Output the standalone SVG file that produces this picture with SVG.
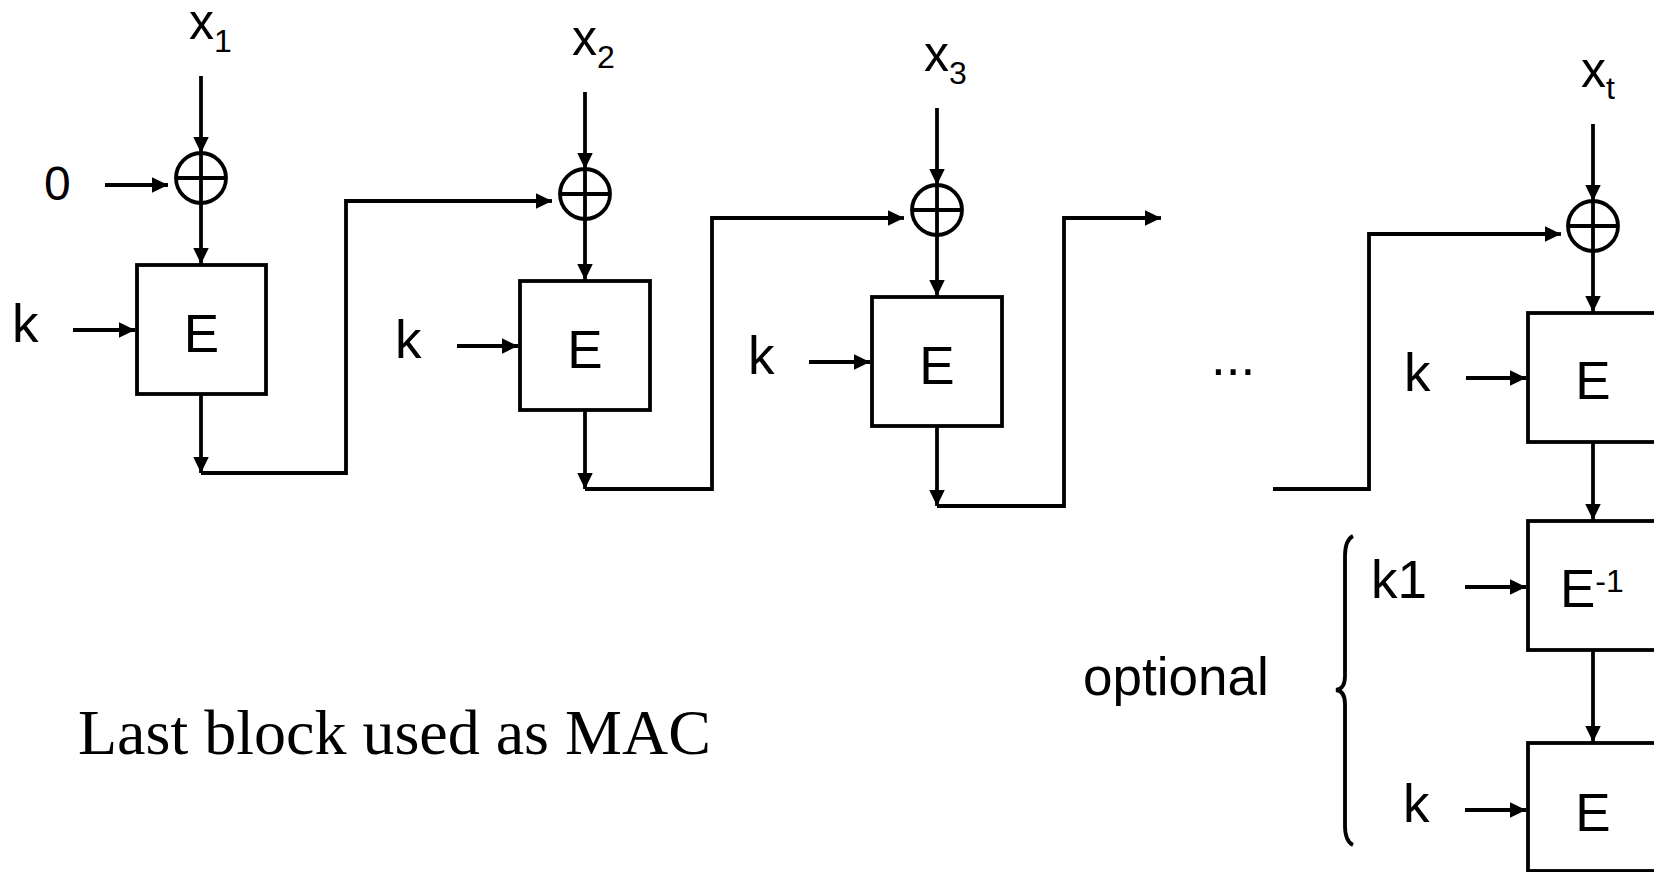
<svg xmlns="http://www.w3.org/2000/svg" width="1654" height="872" viewBox="0 0 1654 872">
<defs>
<marker id="ah" markerUnits="userSpaceOnUse" markerWidth="17" markerHeight="16" refX="16" refY="7.75" orient="auto">
<path d="M0,0 L16,7.75 L0,15.5 Z" fill="#000"/>
</marker>
<style>
.sans{font-family:"Liberation Sans",Arial,Helvetica,sans-serif;fill:#000}
.lbl{font-size:53px}
.xl{font-size:50px}
.sub{font-size:32px}
.box{fill:#fff;stroke:#000;stroke-width:3.8}
.xor{fill:none;stroke:#000;stroke-width:3.8}
.ln{fill:none;stroke:#000;stroke-width:3.8}
.arr{fill:none;stroke:#000;stroke-width:3.8;marker-end:url(#ah)}
.serif{font-family:"Liberation Serif","Times New Roman",serif;font-size:64px;fill:#000}
</style>
</defs>
<rect width="1654" height="872" fill="#fff"/>

<g id="connectors">
<line class="arr" x1="201" y1="76" x2="201" y2="153"/>
<line class="arr" x1="585" y1="92" x2="585" y2="169"/>
<line class="arr" x1="937" y1="108" x2="937" y2="185"/>
<line class="arr" x1="1593" y1="124" x2="1593" y2="201"/>
<line class="arr" x1="105" y1="185" x2="168" y2="185"/>
<line class="arr" x1="201" y1="203" x2="201" y2="264"/>
<line class="arr" x1="585" y1="219" x2="585" y2="280"/>
<line class="arr" x1="937" y1="235" x2="937" y2="296"/>
<line class="arr" x1="1593" y1="251" x2="1593" y2="312"/>
<line class="arr" x1="73" y1="330" x2="135" y2="330"/>
<line class="arr" x1="457" y1="346" x2="518" y2="346"/>
<line class="arr" x1="809" y1="362" x2="870" y2="362"/>
<line class="arr" x1="1466" y1="378" x2="1526" y2="378"/>
<line class="arr" x1="1465" y1="587" x2="1526" y2="587"/>
<line class="arr" x1="1465" y1="810" x2="1526" y2="810"/>
<line class="arr" x1="201" y1="394" x2="201" y2="473"/>
<line class="arr" x1="585" y1="410" x2="585" y2="489"/>
<line class="arr" x1="937" y1="426" x2="937" y2="506"/>
<line class="arr" x1="1593" y1="442" x2="1593" y2="520"/>
<line class="arr" x1="1593" y1="650" x2="1593" y2="742"/>
<path class="ln" d="M201,473 H346 V201 H540"/>
<path class="arr" d="M540,201 H552"/>
<path class="ln" d="M585,489 H712 V218 H890"/>
<path class="arr" d="M890,218 H904"/>
<path class="ln" d="M937,506 H1064 V218 H1148"/>
<path class="arr" d="M1148,218 H1161"/>
<path class="ln" d="M1273,489 H1369 V234 H1548"/>
<path class="arr" d="M1548,234 H1561"/>
</g>

<g id="xor1"><circle class="xor" cx="201" cy="178" r="25"/><path class="xor" d="M176,178 H226 M201,153 V203"/></g>
<g id="xor2"><circle class="xor" cx="585" cy="194" r="25"/><path class="xor" d="M560,194 H610 M585,169 V219"/></g>
<g id="xor3"><circle class="xor" cx="937" cy="210" r="25"/><path class="xor" d="M912,210 H962 M937,185 V235"/></g>
<g id="xort"><circle class="xor" cx="1593" cy="226" r="25"/><path class="xor" d="M1568,226 H1618 M1593,201 V251"/></g>

<g id="E1"><rect class="box" x="137" y="265" width="129" height="129"/><text class="sans lbl" x="201.5" y="352" text-anchor="middle">E</text></g>
<g id="E2"><rect class="box" x="520" y="281" width="130" height="129"/><text class="sans lbl" x="585" y="368" text-anchor="middle">E</text></g>
<g id="E3"><rect class="box" x="872" y="297" width="130" height="129"/><text class="sans lbl" x="937" y="384" text-anchor="middle">E</text></g>
<g id="Et"><rect class="box" x="1528" y="313" width="130" height="129"/><text class="sans lbl" x="1593" y="399" text-anchor="middle">E</text></g>
<g id="Einv"><rect class="box" x="1528" y="521" width="130" height="129"/><text class="sans lbl" x="1560" y="607">E<tspan class="sub" dy="-15">-1</tspan></text></g>
<g id="Efinal"><rect class="box" x="1528" y="743" width="130" height="128"/><text class="sans lbl" x="1593" y="831" text-anchor="middle">E</text></g>

<g id="labels">
<text class="sans xl" x="189" y="39">x<tspan class="sub" dy="13">1</tspan></text>
<text class="sans xl" x="572" y="55">x<tspan class="sub" dy="13">2</tspan></text>
<text class="sans xl" x="924" y="71">x<tspan class="sub" dy="13">3</tspan></text>
<text class="sans xl" x="1581" y="87">x<tspan class="sub" dy="12">t</tspan></text>
<text class="sans" font-size="48" x="44" y="200">0</text>
<text class="sans lbl" x="12" y="342">k</text>
<text class="sans lbl" x="395" y="358">k</text>
<text class="sans lbl" x="748" y="374">k</text>
<text class="sans lbl" x="1404" y="391">k</text>
<text class="sans lbl" x="1371" y="598">k1</text>
<text class="sans lbl" x="1403" y="822">k</text>
<text class="sans lbl" x="1211" y="375">...</text>
<text class="sans lbl" x="1083" y="695">optional</text>
<text class="serif" x="78" y="754">Last block used as MAC</text>
</g>

<g id="brace">
<path class="ln" d="M1353,536 Q1345,540 1345,556 L1345,676 Q1345,689 1336,690 Q1345,691 1345,704 L1345,826 Q1345,841 1353,845"/>
</g>
</svg>
